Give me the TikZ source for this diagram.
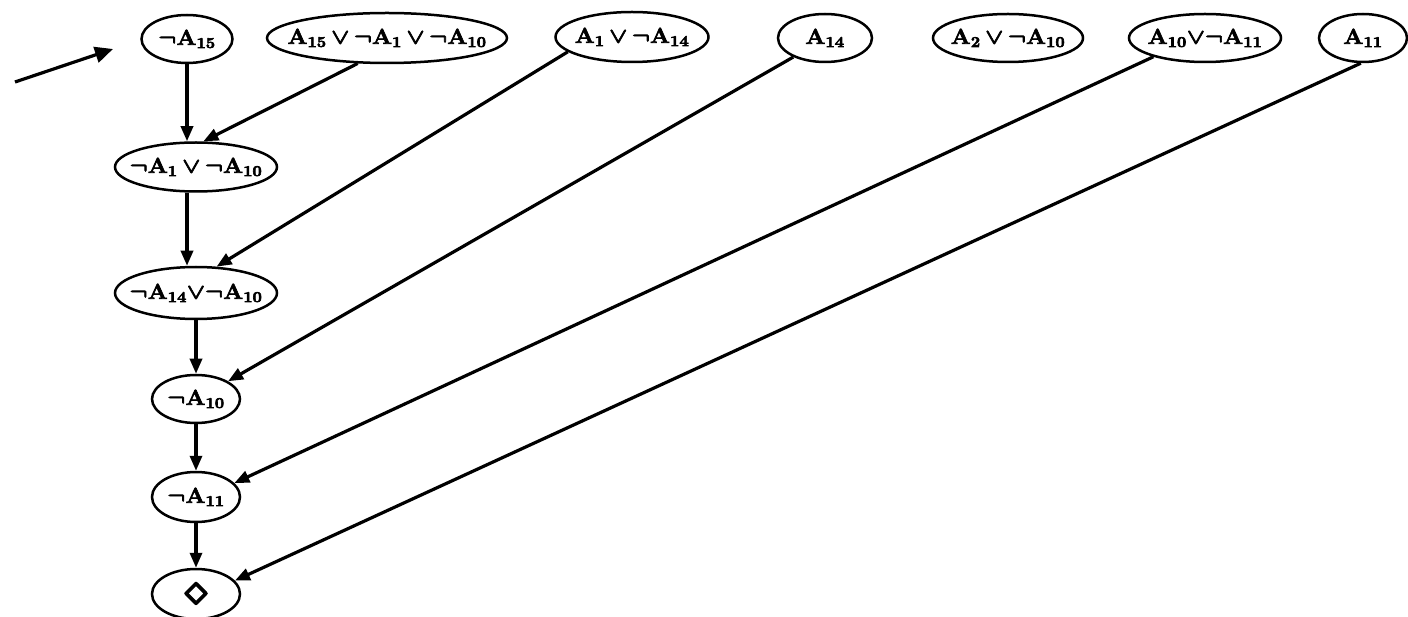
\RequirePackage{fix-cm}
\documentclass[tikz,border=0pt]{standalone}
\usepackage{amssymb}
\usepackage{graphicx}
\usetikzlibrary{shapes.geometric,arrows.meta}
\newcommand{\heavyon}{\special{pdf:literal direct q 2 Tr 0.6 w}}
\newcommand{\heavyoff}{\special{pdf:literal direct 0 Tr Q}}
\newcommand{\lab}[1]{\heavyon\scalebox{1.1}[1]{\boldmath$#1$}\heavyoff}
\begin{document}
\begin{tikzpicture}[x=1pt,y=-1pt,
  nd/.style={ellipse,draw,line width=2.5pt,inner ysep=0pt,inner xsep=-30pt,font=\fontsize{21.5}{24}\selectfont},
  arr/.style={line width=3.2pt,-{Triangle[length=15pt,width=12pt]}},
  bigarr/.style={line width=3.2pt,-{Triangle[length=18pt,width=16pt]}}]
\useasboundingbox (0,0) rectangle (1408,617);
\clip (0,0) rectangle (1408,617);
% top row
\node[nd,minimum width=91pt,minimum height=48pt] (nA15) at (187,39) {\lab{\neg\mathbf{A}_{15}}};
\node[nd,minimum width=240pt,minimum height=50pt] (big) at (387,38) {\lab{\mathbf{A}_{15}\,{\vee}\,\neg\mathbf{A}_{1}\,{\vee}\,\neg\mathbf{A}_{10}}};
\node[nd,minimum width=153pt,minimum height=50pt] (A1nA14) at (632,37) {\lab{\mathbf{A}_{1}\,{\vee}\,\neg\mathbf{A}_{14}}};
\node[nd,minimum width=94pt,minimum height=48pt] (A14) at (825,38) {\lab{\mathbf{A}_{14}}};
\node[nd,minimum width=150pt,minimum height=48pt] (A2nA10) at (1008,38) {\lab{\mathbf{A}_{2}\,{\vee}\,\neg\mathbf{A}_{10}}};
\node[nd,minimum width=152pt,minimum height=48pt] (A10nA11) at (1205,38) {\lab{\mathbf{A}_{10}{\vee}\neg\mathbf{A}_{11}}};
\node[nd,minimum width=88pt,minimum height=48pt] (A11) at (1363,38) {\lab{\mathbf{A}_{11}}};
% left column
\node[nd,minimum width=162pt,minimum height=49pt] (nA1nA10) at (196,167) {\lab{\neg\mathbf{A}_{1}\,{\vee}\,\neg\mathbf{A}_{10}}};
\node[nd,minimum width=162pt,minimum height=52pt] (nA14nA10) at (196,293) {\lab{\neg\mathbf{A}_{14}{\vee}\neg\mathbf{A}_{10}}};
\node[nd,minimum width=88pt,minimum height=48pt] (nA10) at (196,399) {\lab{\neg\mathbf{A}_{10}}};
\node[nd,minimum width=88pt,minimum height=50pt] (nA11) at (196,497) {\lab{\neg\mathbf{A}_{11}}};
\node[nd,minimum width=88pt,minimum height=50pt] (box) at (196,594) {\heavyon\scalebox{1.9}{\boldmath$\diamond$}\heavyoff};
% edges
\draw[arr] (nA15.south) -- (nA15.south |- nA1nA10.north);
\draw[arr] (big.-139) -- (nA1nA10.74);
\draw[arr] (nA1nA10.south -| nA15.south) -- (nA14nA10.north -| nA15.south);
\draw[arr] (A1nA14.-167) -- (nA14nA10.52);
\draw[arr] (nA14nA10.south) -- (nA10.north);
\draw[arr] (A14.-149) -- (nA10.29);
\draw[arr] (nA10.south) -- (nA11.north);
\draw[arr] (A10nA11.-160) -- (nA11.20);
\draw[arr] (nA11.south) -- (box.north);
\draw[arr] (A11.-95) -- (box.19);
% pointer arrow
\coordinate (ps) at (15,82);
\coordinate (pt) at (113,49);
\draw[bigarr] (ps) -- (pt);
\end{tikzpicture}
\end{document}
